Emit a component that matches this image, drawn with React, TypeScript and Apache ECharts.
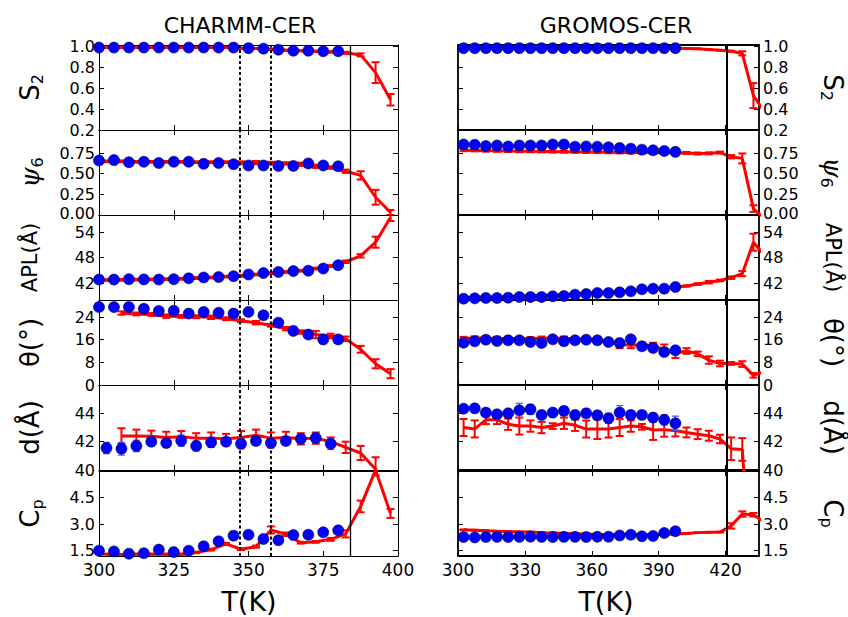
import React, { useEffect, useRef } from 'react';
import * as echarts from 'echarts';

// ---------- CHARMM-CER (left column) ----------
const charmmTBlue = [300, 305, 310, 315, 320, 325, 330, 335, 340, 345, 350, 355, 360, 365, 370, 375, 380];
const charmmTBlueD = [302.5, 307.5, 312.5, 317.5, 322.5, 327.5, 332.5, 337.5, 342.5, 347.5, 352.5, 357.5, 362.5, 367.5, 372.5, 377.5];
const charmmTRed = [302.5, 307.5, 312.5, 317.5, 322.5, 327.5, 332.5, 337.5, 342.5, 347.5, 352.5, 357.5, 362.5, 367.5, 372.5, 377.5, 382.5, 387.5, 392.5, 397.5];
const charmmTRed2 = [307.5, 312.5, 317.5, 322.5, 327.5, 332.5, 337.5, 342.5, 347.5, 352.5, 357.5, 362.5, 367.5, 372.5, 377.5, 382.5, 387.5, 392.5, 397.5];

const charmmS2Blue = [0.99, 0.99, 0.99, 0.99, 0.99, 0.99, 0.99, 0.99, 0.99, 0.99, 0.985, 0.98, 0.97, 0.96, 0.96, 0.955, 0.955];
const charmmS2Red = [0.99, 0.99, 0.99, 0.99, 0.99, 0.99, 0.99, 0.99, 0.99, 0.985, 0.982, 0.975, 0.965, 0.96, 0.955, 0.95, 0.94, 0.92, 0.75, 0.49];
const charmmS2RedErr = [0.004, 0.004, 0.004, 0.004, 0.004, 0.004, 0.004, 0.004, 0.004, 0.004, 0.004, 0.004, 0.005, 0.005, 0.005, 0.008, 0.01, 0.015, 0.1, 0.055];

const charmmPsiBlue = [0.66, 0.665, 0.64, 0.645, 0.63, 0.645, 0.645, 0.62, 0.63, 0.615, 0.6, 0.6, 0.595, 0.595, 0.625, 0.6, 0.59];
const charmmPsiRed = [0.65, 0.65, 0.645, 0.645, 0.645, 0.645, 0.64, 0.64, 0.64, 0.635, 0.635, 0.63, 0.625, 0.615, 0.59, 0.575, 0.53, 0.48, 0.215, 0.03];
const charmmPsiRedErr = [0.01, 0.01, 0.01, 0.01, 0.01, 0.01, 0.01, 0.01, 0.01, 0.015, 0.02, 0.015, 0.015, 0.02, 0.02, 0.015, 0.02, 0.05, 0.09, 0.03];

const charmmAplBlue = [42.8, 42.8, 42.9, 42.85, 42.8, 42.9, 43.1, 43.3, 43.4, 43.6, 44.0, 44.35, 44.6, 44.8, 44.9, 45.4, 46.2];
const charmmAplRed = [42.7, 42.75, 42.8, 42.85, 42.9, 43.0, 43.15, 43.3, 43.5, 43.7, 44.0, 44.3, 44.6, 44.9, 45.4, 46.0, 47.0, 48.4, 51.6, 57.4];
const charmmAplRedErr = [0.2, 0.2, 0.2, 0.2, 0.2, 0.2, 0.2, 0.2, 0.2, 0.2, 0.2, 0.2, 0.2, 0.2, 0.2, 0.2, 0.3, 0.4, 1.3, 0.8];

const charmmThetaBlue = [27.5, 27.5, 27.5, 26.9, 26.1, 26.2, 25.2, 25.8, 25.5, 25.2, 25.8, 24.6, 22.0, 19.1, 17.8, 16.1, 16.1];
const charmmThetaBlueErr = [0.3, 0.3, 0.3, 0.3, 0.3, 0.3, 0.3, 0.3, 0.3, 0.3, 0.3, 0.3, 0.4, 0.5, 0.8, 1.5, 1.3];
const charmmThetaRed = [25.4, 25.1, 24.9, 24.3, 24.2, 24.1, 23.9, 23.4, 22.7, 22.0, 21.1, 19.9, 18.7, 17.8, 17.3, 16.3, 12.6, 7.5, 4.0];
const charmmThetaRedErr = [0.6, 0.5, 0.5, 0.6, 0.5, 0.5, 0.6, 0.5, 0.5, 0.6, 0.5, 0.6, 0.6, 1.3, 0.8, 0.8, 1.2, 1.6, 1.6];

const charmmDBlue = [41.55, 41.5, 41.7, 42.0, 41.9, 42.07, 41.7, 41.95, 42.0, 41.85, 42.05, 41.9, 42.05, 42.2, 42.25, 41.85];
const charmmDBlueErr = [0.4, 0.45, 0.4, 0.3, 0.3, 0.4, 0.35, 0.35, 0.3, 0.35, 0.3, 0.35, 0.3, 0.35, 0.35, 0.4];
const charmmDRed = [42.4, 42.4, 42.38, 42.3, 42.35, 42.25, 42.25, 42.2, 42.3, 42.45, 42.25, 42.3, 42.2, 42.25, 42.0, 41.6, 41.2, 40.05, 37.0];
const charmmDRedErr = [0.55, 0.45, 0.4, 0.4, 0.4, 0.35, 0.4, 0.35, 0.45, 0.4, 0.4, 0.4, 0.4, 0.4, 0.3, 0.4, 0.5, 0.85, 0];

const charmmCpBlue = [1.5, 1.46, 1.33, 1.36, 1.56, 1.42, 1.5, 1.75, 2.03, 2.35, 2.4, 2.16, 2.09, 2.38, 2.4, 2.54, 2.65];
const charmmCpRed = [1.3, 1.28, 1.3, 1.3, 1.3, 1.3, 1.4, 1.56, 1.88, 1.58, 1.73, 2.67, 2.43, 1.95, 2.0, 2.14, 2.45, 4.0, 6.05, 3.6];
const charmmCpRedErr = [0.03, 0.03, 0.03, 0.03, 0.03, 0.03, 0.04, 0.05, 0.06, 0.05, 0.06, 0.2, 0.1, 0.05, 0.05, 0.08, 0.2, 0.33, 0.3, 0.25];

const charmmVLinesDotted = [347.1, 357.4];
const charmmVLineSolid = 384;

// ---------- GROMOS-CER (right column) ----------
const gromosTBlue = [302.5, 307.5, 312.5, 317.5, 322.5, 327.5, 332.5, 337.5, 342.5, 347.5, 352.5, 357.5, 362.5, 367.5, 372.5, 377.5, 382.5, 387.5, 392.5, 397.5];
const gromosTRed = [302.5, 307.5, 312.5, 317.5, 322.5, 327.5, 332.5, 337.5, 342.5, 347.5, 352.5, 357.5, 362.5, 367.5, 372.5, 377.5, 382.5, 387.5, 392.5, 397.5, 402.5, 407.5, 412.5, 417.5, 422.5, 427.5, 432.5, 437.5];

const gromosS2Blue = [0.985, 0.985, 0.985, 0.985, 0.985, 0.985, 0.985, 0.985, 0.985, 0.985, 0.985, 0.985, 0.985, 0.985, 0.985, 0.985, 0.985, 0.985, 0.985, 0.985];
const gromosS2Red = [0.985, 0.985, 0.985, 0.985, 0.985, 0.985, 0.985, 0.985, 0.985, 0.985, 0.985, 0.985, 0.985, 0.985, 0.985, 0.985, 0.985, 0.985, 0.985, 0.985, 0.982, 0.978, 0.972, 0.965, 0.955, 0.935, 0.53, 0.37];
const gromosS2RedErr = [0.003, 0.003, 0.003, 0.003, 0.003, 0.003, 0.003, 0.003, 0.003, 0.003, 0.003, 0.003, 0.003, 0.003, 0.003, 0.003, 0.003, 0.003, 0.003, 0.003, 0.003, 0.003, 0.003, 0.003, 0.005, 0.02, 0.12, 0];

const gromosPsiBlue = [0.855, 0.851, 0.835, 0.843, 0.831, 0.843, 0.843, 0.843, 0.855, 0.855, 0.827, 0.831, 0.827, 0.82, 0.812, 0.804, 0.792, 0.784, 0.776, 0.765];
const gromosPsiRed = [0.785, 0.783, 0.78, 0.778, 0.775, 0.773, 0.772, 0.77, 0.768, 0.767, 0.765, 0.763, 0.762, 0.76, 0.758, 0.757, 0.756, 0.755, 0.754, 0.753, 0.752, 0.745, 0.747, 0.757, 0.706, 0.686, 0.078, -0.05];
const gromosPsiRedErr = [0.012, 0.012, 0.012, 0.012, 0.012, 0.012, 0.012, 0.012, 0.012, 0.012, 0.012, 0.012, 0.012, 0.012, 0.012, 0.012, 0.012, 0.012, 0.012, 0.012, 0.012, 0.012, 0.012, 0.012, 0.02, 0.06, 0.04, 0];

const gromosAplBlue = [38.31, 38.39, 38.47, 38.47, 38.55, 38.71, 38.71, 38.71, 38.86, 38.94, 39.25, 39.41, 39.65, 39.65, 39.8, 40.04, 40.51, 40.67, 40.67, 41.06];
const gromosAplRed = [38.6, 38.65, 38.7, 38.75, 38.8, 38.9, 39.0, 39.1, 39.2, 39.3, 39.45, 39.6, 39.75, 39.85, 39.95, 40.1, 40.3, 40.5, 40.7, 41.05, 41.3, 41.75, 42.2, 42.6, 43.25, 44.2, 51.6, 48.5];
const gromosAplRedErr = [0.1, 0.1, 0.1, 0.1, 0.1, 0.1, 0.1, 0.1, 0.1, 0.1, 0.1, 0.1, 0.1, 0.1, 0.1, 0.1, 0.1, 0.1, 0.1, 0.1, 0.15, 0.2, 0.3, 0.2, 0.3, 0.6, 2.0, 0];

const gromosThetaBlue = [14.94, 15.41, 16.0, 15.53, 15.77, 15.77, 15.18, 14.83, 16.12, 15.41, 15.77, 16.0, 15.77, 15.18, 14.83, 16.12, 13.65, 13.06, 11.65, 12.24];
const gromosThetaBlueErr = [0.4, 0.4, 0.4, 0.4, 0.4, 0.4, 0.4, 0.4, 0.4, 0.4, 0.4, 0.4, 0.4, 0.4, 0.4, 0.5, 0.6, 0.8, 1.3, 1.0];
const gromosThetaRed = [16.4, 16.6, 16.6, 16.4, 16.4, 16.3, 16.3, 16.5, 16.5, 16.5, 16.3, 16.1, 15.9, 15.3, 14.3, 14.0, 14.2, 13.9, 12.5, 11.2, 12.0, 11.0, 8.8, 7.6, 7.6, 7.4, 3.4, 4.8];
const gromosThetaRedErr = [0.6, 0.6, 0.6, 0.6, 0.6, 0.6, 0.6, 0.6, 0.6, 0.6, 0.6, 0.6, 0.6, 0.8, 1.3, 1.0, 0.8, 1.0, 1.8, 1.7, 1.0, 0.8, 1.3, 1.0, 0.5, 1.0, 0.8, 0];

const gromosDBlue = [44.33, 44.35, 44.05, 43.93, 44.0, 44.21, 44.28, 43.89, 44.05, 44.17, 43.89, 44.0, 43.86, 43.65, 44.05, 43.89, 43.89, 43.7, 43.54, 43.3];
const gromosDBlueErr = [0.2, 0.2, 0.25, 0.25, 0.25, 0.5, 0.35, 0.3, 0.25, 0.3, 0.25, 0.3, 0.3, 0.35, 0.5, 0.3, 0.3, 0.3, 0.35, 0.5];
const gromosDRed = [43.0, 42.9, 43.54, 43.54, 43.23, 43.1, 43.1, 43.0, 43.1, 43.3, 43.16, 42.89, 42.89, 42.89, 43.0, 43.1, 43.05, 42.82, 42.85, 42.77, 42.65, 42.53, 42.42, 42.19, 41.5, 41.45, 30, 30];
const gromosDRedErr = [0.6, 0.6, 0.3, 0.3, 0.4, 0.6, 0.4, 0.4, 0.2, 0.4, 0.4, 0.6, 0.7, 0.6, 0.6, 0.4, 0.2, 0.7, 0.5, 0.4, 0.35, 0.35, 0.35, 0.3, 0.8, 0.8, 0, 0];

const gromosCpBlue = [2.27, 2.25, 2.27, 2.28, 2.27, 2.28, 2.29, 2.28, 2.27, 2.28, 2.28, 2.27, 2.29, 2.29, 2.36, 2.4, 2.31, 2.33, 2.5, 2.6];
const gromosCpRed = [2.68, 2.66, 2.63, 2.6, 2.58, 2.56, 2.55, 2.52, 2.5, 2.48, 2.46, 2.44, 2.42, 2.42, 2.41, 2.41, 2.41, 2.41, 2.42, 2.44, 2.47, 2.52, 2.54, 2.55, 2.9, 3.57, 3.53, 3.1];
const gromosCpRedErr = [0.02, 0.02, 0.02, 0.02, 0.02, 0.02, 0.02, 0.02, 0.02, 0.02, 0.02, 0.02, 0.02, 0.02, 0.02, 0.02, 0.02, 0.02, 0.02, 0.02, 0.02, 0.02, 0.02, 0.02, 0.15, 0.15, 0.1, 0];

const gromosVLineSolid = 420.5;

// ---------- axes ----------
const xTicksCharmm = [300, 325, 350, 375, 400];
const xTicksGromos = [300, 330, 360, 390, 420];

const yS2Ticks = [0.2, 0.4, 0.6, 0.8, 1.0];
const yPsiTicks = [0, 0.25, 0.5, 0.75];
const yAplTicks = [42, 48, 54];
const yThetaTicks = [0, 8, 16, 24];
const yDTicks = [40, 42, 44];
const yCpTicks = [1.5, 3.0, 4.5];

const FONT = 'DejaVu Sans';
const TICK_FS = 16;
const RED = '#ff0000';
const BLUE = '#0000ff';
const BLUE_ERR = '#4b4bff';

type Panel = {
  min: number; max: number; ticks: number[]; dec: number;
  name: string; rich: any; liftMin?: boolean;
};

const mainRich = { fontSize: 26, fontFamily: FONT, fill: '#000', lineHeight: 30 };
const subRich = { fontSize: 16, fontFamily: FONT, fill: '#000', verticalAlign: 'bottom', lineHeight: 16 };

const panels: Panel[] = [
  { min: 0.2, max: 1.015, ticks: yS2Ticks, dec: 1, name: '{m|S}{s|2}', rich: { m: mainRich, s: subRich } },
  { min: 0, max: 1.03, ticks: yPsiTicks, dec: 2, name: '{i|ψ}{s|6}', rich: { i: { ...mainRich, fontStyle: 'italic', fontFamily: 'DejaVu Serif' }, s: subRich }, liftMin: true },
  { min: 38, max: 58, ticks: yAplTicks, dec: 0, name: '{a|APL(Å)}', rich: { a: { fontSize: 21, fontFamily: FONT, fill: '#000', lineHeight: 24 } } },
  { min: 0, max: 30, ticks: yThetaTicks, dec: 0, name: '{m|θ(°)}', rich: { m: mainRich } },
  { min: 40, max: 46, ticks: yDTicks, dec: 0, name: '{m|d(Å)}', rich: { m: mainRich } },
  { min: 1.2, max: 6.0, ticks: yCpTicks, dec: 1, name: '{m|C}{s|p}', rich: { m: mainRich, s: subRich } },
];

const TOPS = [45, 130, 215, 300, 385, 471];
const PH = 85;

function errSeries(g: number, xs: number[], ys: number[], es: number[], color: string, width: number, cap: number, z: number) {
  return {
    type: 'custom',
    coordinateSystem: 'cartesian2d',
    xAxisIndex: 2 * g,
    yAxisIndex: 2 * g,
    clip: true,
    z,
    silent: true,
    data: xs.map((x, i) => [x, ys[i], es[i]]),
    encode: { x: 0, y: 1 },
    renderItem: (_params: any, api: any) => {
      const x = api.value(0);
      const y = api.value(1);
      const e = api.value(2);
      if (!e || e <= 0) return { type: 'group', children: [] };
      const p1 = api.coord([x, y + e]);
      const p2 = api.coord([x, y - e]);
      const style = { stroke: color, lineWidth: width, fill: 'none' };
      return {
        type: 'group',
        children: [
          { type: 'line', shape: { x1: p1[0], y1: p1[1], x2: p2[0], y2: p2[1] }, style },
          { type: 'line', shape: { x1: p1[0] - cap, y1: p1[1], x2: p1[0] + cap, y2: p1[1] }, style },
          { type: 'line', shape: { x1: p2[0] - cap, y1: p2[1], x2: p2[0] + cap, y2: p2[1] }, style },
        ],
      };
    },
  };
}

type PanelData = {
  blueT: number[]; blue: number[]; blueErr: number[] | null;
  redT: number[]; red: number[]; redErr: number[];
};

const charmmData: PanelData[] = [
  { blueT: charmmTBlue, blue: charmmS2Blue, blueErr: null, redT: charmmTRed, red: charmmS2Red, redErr: charmmS2RedErr },
  { blueT: charmmTBlue, blue: charmmPsiBlue, blueErr: null, redT: charmmTRed, red: charmmPsiRed, redErr: charmmPsiRedErr },
  { blueT: charmmTBlue, blue: charmmAplBlue, blueErr: null, redT: charmmTRed, red: charmmAplRed, redErr: charmmAplRedErr },
  { blueT: charmmTBlue, blue: charmmThetaBlue, blueErr: charmmThetaBlueErr, redT: charmmTRed2, red: charmmThetaRed, redErr: charmmThetaRedErr },
  { blueT: charmmTBlueD, blue: charmmDBlue, blueErr: charmmDBlueErr, redT: charmmTRed2, red: charmmDRed, redErr: charmmDRedErr },
  { blueT: charmmTBlue, blue: charmmCpBlue, blueErr: null, redT: charmmTRed, red: charmmCpRed, redErr: charmmCpRedErr },
];

const gromosData: PanelData[] = [
  { blueT: gromosTBlue, blue: gromosS2Blue, blueErr: null, redT: gromosTRed, red: gromosS2Red, redErr: gromosS2RedErr },
  { blueT: gromosTBlue, blue: gromosPsiBlue, blueErr: null, redT: gromosTRed, red: gromosPsiRed, redErr: gromosPsiRedErr },
  { blueT: gromosTBlue, blue: gromosAplBlue, blueErr: null, redT: gromosTRed, red: gromosAplRed, redErr: gromosAplRedErr },
  { blueT: gromosTBlue, blue: gromosThetaBlue, blueErr: gromosThetaBlueErr, redT: gromosTRed, red: gromosThetaRed, redErr: gromosThetaRedErr },
  { blueT: gromosTBlue, blue: gromosDBlue, blueErr: gromosDBlueErr, redT: gromosTRed, red: gromosDRed, redErr: gromosDRedErr },
  { blueT: gromosTBlue, blue: gromosCpBlue, blueErr: null, redT: gromosTRed, red: gromosCpRed, redErr: gromosCpRedErr },
];

function buildOption() {
  const grid: any[] = [];
  const xAxis: any[] = [];
  const yAxis: any[] = [];
  const series: any[] = [];
  const graphic: any[] = [];

  for (let col = 0; col < 2; col++) {
    const frameW = col === 0 ? 1 : 1.8;
    const xTicks = col === 0 ? xTicksCharmm : xTicksGromos;
    const xMax = col === 0 ? 400 : 435;
    const data = col === 0 ? charmmData : gromosData;
    for (let row = 0; row < 6; row++) {
      const g = col * 6 + row;
      const p = panels[row];
      grid.push({
        left: col === 0 ? 99 : 458,
        width: col === 0 ? 299 : 301,
        top: TOPS[row],
        height: PH,
        containLabel: false,
      });
      const lineStyle = { color: '#000', width: frameW };
      for (const pos of ['bottom', 'top']) {
        const showLabels = pos === 'bottom' && row === 5;
        xAxis.push({
          type: 'value', gridIndex: g, position: pos, min: 300, max: xMax,
          axisLine: { show: true, onZero: false, lineStyle },
          axisTick: { show: true, inside: true, length: 5, customValues: xTicks, lineStyle: { color: '#000', width: 1 } },
          axisLabel: {
            show: showLabels, customValues: xTicks, color: '#000', fontSize: 17, fontFamily: FONT, margin: 6, lineHeight: 15,
            showMinLabel: true, showMaxLabel: true,
          },
          splitLine: { show: false },
        });
      }
      for (const pos of ['left', 'right']) {
        const showLabels = (col === 0 && pos === 'left') || (col === 1 && pos === 'right');
        yAxis.push({
          type: 'value', gridIndex: g, position: pos, min: p.min, max: p.max,
          axisLine: { show: true, onZero: false, lineStyle },
          axisTick: { show: true, inside: true, length: 5, customValues: p.ticks, lineStyle: { color: '#000', width: 1 } },
          axisLabel: {
            show: showLabels, customValues: p.ticks, color: '#000', fontSize: TICK_FS, fontFamily: FONT, margin: 4,
            lineHeight: 14, showMinLabel: true, showMaxLabel: true, hideOverlap: false,
            formatter: (v: number) => (p.liftMin && v === p.min ? `{lo|${v.toFixed(p.dec)}}` : v.toFixed(p.dec)),
            rich: { lo: { fontSize: TICK_FS, fontFamily: FONT, color: '#000', lineHeight: 14, padding: [0, 0, 4, 0] } },
          },
          splitLine: { show: false },
        });
      }

      const d = data[row];
      const markData = col === 0
        ? [
            ...charmmVLinesDotted.map((v) => ({ xAxis: v, lineStyle: { type: [3, 2.5], width: 2, color: '#000' } })),
            { xAxis: charmmVLineSolid, lineStyle: { type: 'solid', width: 1.3, color: '#000' } },
          ]
        : [{ xAxis: gromosVLineSolid, lineStyle: { type: 'solid', width: 2, color: '#000' } }];

      series.push({
        type: 'line', xAxisIndex: 2 * g, yAxisIndex: 2 * g,
        data: d.redT.map((x, i) => [x, d.red[i]]),
        symbol: 'none', clip: true, z: 2, silent: true,
        lineStyle: { color: RED, width: 3 }, itemStyle: { color: RED },
        markLine: {
          silent: true, symbol: ['none', 'none'], label: { show: false },
          emphasis: { disabled: true },
          data: markData,
        },
      });
      series.push(errSeries(g, d.redT, d.red, d.redErr, RED, 2, 4, 3));
      if (d.blueErr) series.push(errSeries(g, d.blueT, d.blue, d.blueErr, BLUE_ERR, 1.2, 3.5, 4));
      series.push({
        type: 'scatter', xAxisIndex: 2 * g, yAxisIndex: 2 * g,
        data: d.blueT.map((x, i) => [x, d.blue[i]]),
        symbol: 'circle', symbolSize: 11, z: 5, silent: true,
        itemStyle: { color: BLUE, borderColor: '#00003a', borderWidth: 0.6, opacity: 1 },
      });

      // axis name
      const cy = TOPS[row] + PH / 2;
      graphic.push({
        type: 'text',
        x: col === 0 ? 30 : 833,
        y: cy,
        rotation: col === 0 ? Math.PI / 2 : -Math.PI / 2,
        style: {
          text: p.name, rich: p.rich, fill: '#000',
          align: 'center', verticalAlign: 'middle', textAlign: 'center', textVerticalAlign: 'middle',
        },
      });
    }
  }

  const titleStyle = (text: string, size: number) => ({
    text, fill: '#000', font: `${size}px "${FONT}"`, lineHeight: size,
    align: 'center', verticalAlign: 'middle', textAlign: 'center', textVerticalAlign: 'middle',
  });
  graphic.push({ type: 'text', x: 240, y: 25, style: titleStyle('CHARMM-CER', 22) });
  graphic.push({ type: 'text', x: 616, y: 25, style: titleStyle('GROMOS-CER', 22) });
  graphic.push({ type: 'text', x: 249, y: 601, style: titleStyle('T(K)', 27) });
  graphic.push({ type: 'text', x: 606, y: 601, style: titleStyle('T(K)', 27) });

  return {
    animation: false,
    backgroundColor: '#ffffff',
    grid, xAxis, yAxis, series, graphic,
  };
}

export default function App() {
  const ref = useRef<HTMLDivElement>(null);
  useEffect(() => {
    if (!ref.current) return;
    const chart = echarts.init(ref.current, null, { renderer: 'svg' });
    chart.setOption(buildOption() as any);
    return () => chart.dispose();
  }, []);
  return (
    <div
      ref={ref}
      style={{ position: 'absolute', left: 0, top: 0, width: 848, height: 617, background: '#fff' }}
    />
  );
}
